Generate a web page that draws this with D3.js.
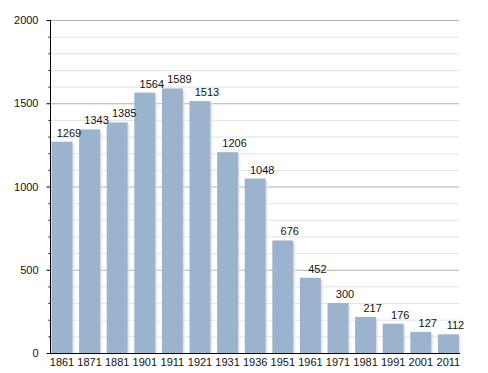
<!DOCTYPE html>
<html><head><meta charset="utf-8">
<script src="https://cdn.jsdelivr.net/npm/d3@7"></script>
<style>body{margin:0;background:#fff}svg{display:block}text{font-family:"Liberation Sans",Arial,sans-serif;}</style>
</head><body>
<svg id="c" width="488" height="373"></svg>
<script>
const years = ["1861","1871","1881","1901","1911","1921","1931","1936","1951","1961","1971","1981","1991","2001","2011"];
const population = [1269,1343,1385,1564,1589,1513,1206,1048,676,452,300,217,176,127,112];
const yTicks = [0,500,1000,1500,2000];

const svg = d3.select("#c");
const x = d3.scaleBand().domain(years).range([48.2,462.2]).paddingInner(0.24).paddingOuter(0.12);
const y = d3.scaleLinear().domain([0,2000]).range([353,20]);
const gx0 = 50, gx1 = 459;

// minor gridlines
svg.append("g").selectAll("line").data(d3.range(100,2001,100).filter(v=>v%500)).join("line")
  .attr("x1",gx0).attr("x2",gx1).attr("y1",d=>y(d)+0.5).attr("y2",d=>y(d)+0.5)
  .attr("stroke","#e2e2e2").attr("stroke-width",1);
// major gridlines
svg.append("g").selectAll("line").data(yTicks.filter(v=>v>0)).join("line")
  .attr("x1",gx0).attr("x2",gx1).attr("y1",d=>y(d)+0.5).attr("y2",d=>y(d)+0.5)
  .attr("stroke","#b0b0b0").attr("stroke-width",1);

const defs = svg.append("defs");
const grad = defs.append("linearGradient").attr("id","sh").attr("x1","0").attr("x2","1").attr("y1","0").attr("y2","0");
grad.append("stop").attr("offset","0").attr("stop-color","#c9d6e3").attr("stop-opacity",0.9);
grad.append("stop").attr("offset","1").attr("stop-color","#ffffff").attr("stop-opacity",0);

const bars = svg.append("g");
bars.selectAll("rect.sh").data(years).join("rect").attr("class","sh")
  .attr("x",d=>x(d)+x.bandwidth()).attr("width",4)
  .attr("y",(d,i)=>y(population[i])+2).attr("height",(d,i)=>353-y(population[i])-2)
  .attr("fill","url(#sh)");
bars.selectAll("rect.b").data(years).join("rect").attr("class","b")
  .attr("x",d=>x(d)).attr("width",x.bandwidth())
  .attr("y",(d,i)=>y(population[i])).attr("height",(d,i)=>353-y(population[i]))
  .attr("fill","#9bb3cc");

svg.append("g").selectAll("text").data(years).join("text")
  .attr("x",d=>x(d)+x.bandwidth()/2+7).attr("y",(d,i)=>y(population[i])-5)
  .attr("text-anchor","middle").attr("font-size",11).attr("fill","#111")
  .text((d,i)=>population[i]);

// y axis
const ya = svg.append("g").attr("transform","translate(50.5,0)")
  .call(d3.axisLeft(y).tickValues(yTicks).tickSize(4).tickPadding(8).tickFormat(d3.format("d")));
ya.select(".domain").attr("d","M0,"+(y(2000))+"V"+(353));
ya.selectAll("text").attr("font-size",11).attr("fill","#111").attr("font-family","Liberation Sans, Arial, sans-serif");
ya.selectAll(".tick line").attr("stroke","#000");
svg.append("g").attr("transform","translate(50.5,0)").selectAll("line")
  .data(d3.range(100,2001,100).filter(v=>v%500)).join("line")
  .attr("x1",-2).attr("x2",0).attr("y1",d=>y(d)+0.5).attr("y2",d=>y(d)+0.5).attr("stroke","#000");

// x axis
const xa = svg.append("g").attr("transform","translate(0,353.5)")
  .call(d3.axisBottom(x).tickSize(0).tickPadding(5));
xa.select(".domain").attr("d","M50,0H460").attr("stroke","#000");
xa.selectAll("text").attr("font-size",11).attr("fill","#111").attr("font-family","Liberation Sans, Arial, sans-serif");
</script>
</body></html>
